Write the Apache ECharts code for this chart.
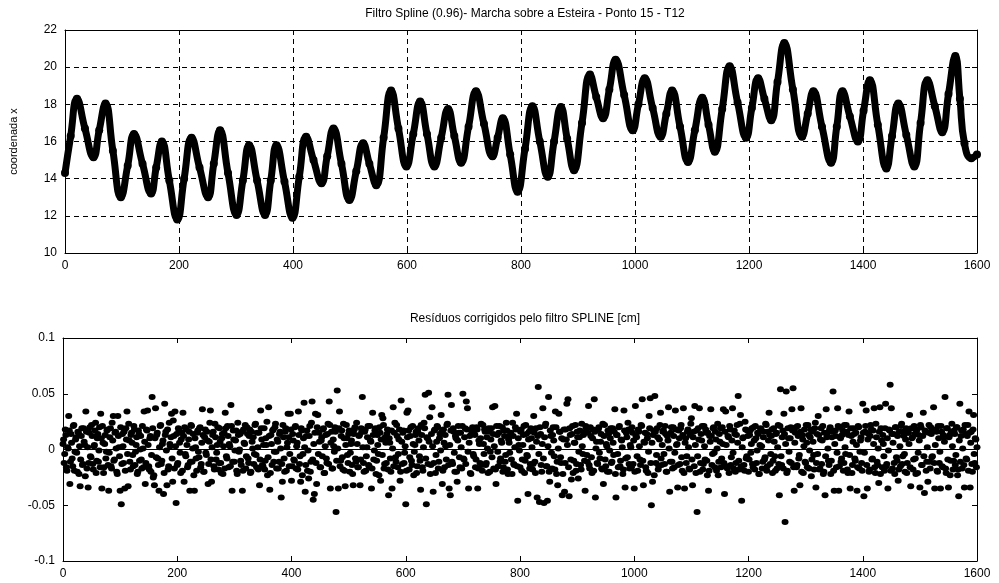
<!DOCTYPE html>
<html>
<head>
<meta charset="utf-8">
<title>Filtro Spline - Ponto 15 - T12</title>
<script src="https://cdn.jsdelivr.net/npm/echarts@6/dist/echarts.min.js"></script>
<style>
html, body { margin: 0; padding: 0; background: #fff; }
#chart { width: 999px; height: 583px; }
</style>
</head>
<body>
<div id="chart"></div>
<script>
// coordenada x filtrada: [quadro, valor] nos picos, vales e pontos intermediarios
const curvePoints = [
  [0,14.3],[10,16.3],[21,18.3],[35,16.7],[50,15.15],[60,16.6],[71,18.05],[84,15.5],[98,13.0],[110,14.7],
  [121,16.4],[136,14.8],[151,13.2],[160,14.6],[170,16.0],[183,13.9],[197,11.8],[209,14.0],[222,16.2],[236,14.6],
  [251,13.0],[261,14.8],[272,16.6],[286,14.3],[301,12.05],[312,13.9],[323,15.8],[337,13.9],[351,12.05],[361,13.9],
  [371,15.8],[385,13.85],[399,11.9],[411,14.1],[423,16.25],[436,15.0],[450,13.75],[460,15.2],[471,16.7],[485,14.8],
  [499,12.85],[511,14.4],[523,15.9],[534,14.8],[546,13.65],[559,16.2],[572,18.75],[585,16.7],[599,14.65],[611,16.4],
  [623,18.15],[635,16.4],[648,14.65],[660,16.2],[672,17.75],[683,16.3],[695,14.85],[708,16.8],[721,18.7],[735,16.95],
  [750,15.2],[759,16.2],[768,17.25],[781,15.3],[794,13.3],[807,15.6],[820,17.9],[833,16.0],[847,14.1],[858,16.0],
  [870,17.85],[881,16.15],[893,14.45],[907,17.0],[921,19.6],[932,18.4],[944,17.25],[955,18.8],[966,20.4],[981,18.5],
  [996,16.6],[1006,18.0],[1017,19.4],[1031,17.8],[1045,16.25],[1055,17.5],[1065,18.75],[1079,16.8],[1093,14.9],[1105,16.6],
  [1118,18.35],[1129,16.9],[1140,15.45],[1153,17.75],[1166,20.05],[1180,18.1],[1195,16.2],[1205,17.8],[1216,19.4],[1227,18.3],
  [1239,17.15],[1250,19.2],[1262,21.3],[1277,18.8],[1293,16.25],[1303,17.5],[1313,18.7],[1328,16.8],[1344,14.85],[1354,16.8],
  [1364,18.7],[1377,17.35],[1391,16.0],[1401,17.65],[1412,19.3],[1426,16.9],[1441,14.55],[1451,16.3],[1462,18.05],[1476,16.35],
  [1490,14.65],[1501,17.0],[1513,19.3],[1526,17.9],[1539,16.5],[1550,18.55],[1562,20.6],[1570,18.3],[1578,15.9],[1590,15.1],
  [1600,15.3]
];

// residuos [cm] nos quadros pares (0, 2, 4, ... 1600)
const residualsEven = [
  0.005,-0.012,0.018,-0.016,0.002,0.030,-0.031,0.014,-0.008,0.021,-0.019,0.009,-0.003,0.016,-0.022,-0.033,0.012,-0.014,0.019,0.004,
  0.034,-0.017,-0.034,0.015,-0.006,0.022,-0.013,0.003,0.017,-0.021,0.010,-0.011,0.020,0.032,-0.035,0.006,-0.016,0.013,-0.002,0.018,
  -0.037,0.011,-0.015,0.024,0.030,-0.009,0.016,-0.020,0.030,0.002,-0.037,-0.049,0.014,-0.012,-0.035,0.019,0.034,-0.033,0.008,-0.018,
  0.015,-0.005,0.021,-0.014,0.004,-0.022,0.017,-0.010,0.012,-0.017,0.001,0.034,-0.031,0.018,0.035,-0.015,0.010,-0.020,0.047,-0.025,
  -0.032,0.037,0.013,-0.008,-0.037,0.021,-0.013,0.005,-0.040,0.041,0.016,-0.032,-0.018,0.024,0.003,0.032,-0.029,0.012,0.034,-0.048,
  -0.014,0.019,0.006,-0.021,0.015,0.033,-0.029,-0.004,0.018,-0.016,0.009,-0.037,0.022,-0.011,0.014,-0.037,0.002,-0.019,0.017,-0.007,
  0.020,-0.013,0.036,-0.020,0.011,-0.003,0.016,-0.031,0.007,0.035,-0.029,0.013,-0.015,0.023,-0.009,0.004,-0.018,0.019,-0.012,0.010,
  -0.022,0.015,0.033,-0.006,0.021,-0.016,0.003,0.040,-0.037,0.017,-0.011,0.008,-0.019,0.024,-0.002,0.014,-0.014,-0.037,0.018,0.005,
  -0.017,0.020,-0.008,0.012,-0.021,0.016,0.001,-0.013,0.022,-0.005,0.015,-0.018,-0.032,0.035,0.009,-0.015,0.019,-0.010,0.004,-0.023,
  0.038,-0.036,0.013,-0.014,0.018,-0.002,0.023,-0.017,0.007,-0.011,0.016,-0.043,-0.029,0.011,-0.020,0.019,0.002,0.032,-0.015,0.032,
  -0.028,0.014,-0.009,0.020,-0.017,0.006,0.034,-0.013,-0.029,0.017,-0.004,0.042,-0.038,0.012,-0.019,-0.026,0.021,-0.011,0.043,-0.045,
  -0.040,0.032,-0.031,0.031,0.015,-0.016,0.008,-0.006,0.019,-0.021,0.013,-0.012,0.023,0.043,-0.035,0.016,-0.017,0.003,0.020,-0.056,
  0.053,-0.035,0.034,-0.010,0.017,-0.018,0.010,-0.033,0.022,-0.005,0.014,-0.020,0.005,-0.014,-0.032,0.018,-0.008,0.024,-0.016,0.012,
  -0.032,0.019,0.047,-0.012,0.016,-0.019,0.002,0.021,-0.015,0.008,-0.035,0.033,-0.009,0.017,-0.022,0.013,-0.004,0.020,-0.028,0.031,
  0.028,-0.017,0.011,-0.012,0.018,-0.041,0.006,-0.020,-0.035,0.038,0.015,-0.007,0.022,-0.016,0.009,-0.028,0.044,-0.013,0.017,-0.003,
  -0.049,0.033,0.035,-0.018,0.012,-0.010,0.021,-0.023,0.004,0.016,-0.015,0.019,-0.006,-0.036,0.013,-0.019,0.024,0.049,-0.049,0.010,
  0.051,0.029,-0.014,0.038,-0.038,0.017,-0.021,0.007,0.020,-0.011,0.014,0.031,-0.031,0.018,-0.016,0.003,0.022,0.049,-0.035,-0.041,
  0.040,-0.013,0.016,-0.020,0.010,-0.029,0.021,-0.007,0.015,-0.017,0.050,-0.009,0.019,0.043,0.037,-0.035,0.012,-0.022,0.017,-0.004,
  0.014,-0.016,0.020,-0.035,0.008,-0.012,0.023,-0.019,0.005,0.018,-0.014,0.011,-0.021,0.016,-0.002,0.019,0.038,-0.017,0.039,-0.031,
  0.013,-0.015,0.021,-0.008,0.006,-0.020,0.017,-0.011,0.024,-0.018,0.009,-0.003,0.015,-0.022,0.012,-0.014,0.020,0.032,-0.046,0.004,
  -0.016,0.018,-0.009,0.013,-0.021,0.022,-0.005,-0.040,0.016,-0.013,0.010,-0.018,0.030,-0.011,0.019,-0.043,0.056,-0.047,0.014,-0.020,
  0.037,-0.048,0.021,-0.015,-0.046,0.047,-0.029,0.012,-0.017,0.020,-0.006,0.034,-0.022,-0.032,0.032,0.016,-0.012,-0.041,0.009,-0.038,
  0.018,0.041,0.045,-0.042,0.013,-0.027,0.021,-0.010,0.006,-0.019,0.016,-0.026,0.011,-0.014,0.023,-0.004,0.015,-0.037,0.019,-0.011,
  0.039,-0.017,0.012,-0.021,0.018,0.045,-0.043,0.007,-0.013,0.020,-0.008,0.014,-0.018,-0.031,0.022,-0.015,0.003,0.017,-0.020,0.010,
  -0.012,0.019,-0.005,0.036,-0.043,0.013,-0.016,0.021,-0.010,0.008,-0.022,0.035,-0.034,0.015,-0.007,0.018,-0.017,0.002,0.020,-0.013,
  -0.035,0.039,0.011,-0.019,0.016,-0.009,0.022,0.045,-0.032,0.006,-0.016,0.014,-0.021,0.030,0.046,-0.050,-0.029,0.017,0.048,-0.012,
  0.019,-0.018,0.009,0.033,-0.014,0.016,-0.004,0.021,-0.020,0.012,0.038,-0.038,0.015,-0.011,0.020,-0.016,0.035,0.004,-0.034,0.017,
  -0.013,0.022,-0.019,0.037,-0.035,0.010,-0.006,0.018,-0.017,0.013,0.028,-0.032,0.016,0.039,-0.021,-0.056,0.019,0.037,-0.012,0.008,
  -0.018,0.021,-0.009,0.015,-0.023,-0.037,0.012,0.036,-0.014,0.019,-0.003,0.016,-0.019,0.023,-0.011,0.007,-0.016,0.020,0.036,-0.040,
  0.034,-0.015,0.012,-0.021,0.018,-0.007,0.037,-0.017,0.014,-0.012,0.022,0.048,-0.018,0.031,-0.046,0.010,-0.014,0.025,-0.008,0.017,
  -0.020,0.013,-0.003,0.019,-0.016,0.008,0.021,-0.012,0.015,-0.022,0.004,0.018,-0.017,0.011,-0.009,0.023,-0.019,0.016,0.033,-0.013,
  0.012,-0.021,0.019,-0.006,0.014,-0.017,0.022,-0.041,0.054,-0.014,0.017,0.032,-0.065,0.052,-0.019,0.010,-0.011,0.020,0.036,0.055,
  -0.037,0.015,-0.016,0.021,-0.008,-0.032,0.037,0.013,-0.021,0.018,-0.012,0.006,0.022,-0.017,0.011,-0.024,0.016,-0.005,0.019,-0.034,
  0.014,0.030,-0.018,0.009,-0.013,0.021,-0.020,-0.041,0.036,0.015,-0.010,0.018,-0.022,0.011,0.052,-0.037,0.017,-0.016,0.037,-0.037,
  0.020,-0.011,0.013,-0.019,0.022,-0.004,0.016,-0.021,0.034,-0.035,0.012,-0.014,0.019,-0.008,0.015,-0.037,0.021,-0.017,0.008,-0.012,
  0.041,-0.042,0.016,0.035,-0.035,0.014,-0.018,0.022,-0.009,0.017,0.037,-0.021,0.011,-0.014,-0.030,0.038,0.019,-0.016,0.005,-0.019,
  0.041,-0.013,-0.035,0.018,0.058,0.037,-0.017,0.014,-0.022,0.020,-0.010,-0.028,0.016,-0.015,0.023,-0.006,0.012,-0.020,0.019,-0.012,
  0.015,0.031,-0.033,0.010,-0.018,0.021,-0.008,0.017,-0.021,0.013,-0.034,0.020,-0.014,0.033,-0.039,0.016,-0.011,-0.029,0.022,-0.017,
  0.014,-0.006,0.038,-0.035,0.018,-0.019,0.021,-0.012,-0.035,0.016,-0.016,0.011,0.047,-0.021,0.019,-0.034,0.013,-0.010,0.023,-0.018,
  0.017,-0.014,0.020,-0.023,-0.042,0.041,0.012,-0.017,0.018,-0.034,0.014,-0.009,0.022,0.034,-0.034,0.016,-0.020,0.031,-0.012,0.009,
  0.002
];

// residuos [cm] nos quadros impares (1, 3, 5, ... 1599)
const residualsOdd = [
  0.009,-0.004,0.013,-0.019,0.001,0.017,-0.011,0.006,-0.015,0.022,-0.002,0.011,-0.020,0.015,0.003,-0.009,0.019,-0.013,0.007,-0.024,
  0.016,0.002,-0.012,0.020,-0.007,0.012,-0.018,0.004,0.024,-0.010,0.014,-0.001,-0.016,0.010,0.021,-0.021,0.005,-0.008,0.017,-0.014,
  -0.003,0.019,-0.017,0.008,-0.010,0.015,0.001,-0.022,0.012,-0.006,0.020,-0.013,0.003,0.016,-0.019,0.009,-0.004,0.023,-0.011,0.013,
  0.006,-0.015,0.018,-0.002,0.011,-0.020,0.014,0.000,-0.009,0.021,-0.016,0.007,-0.012,0.017,0.004,-0.018,0.012,-0.005,0.019,-0.023,
  0.010,-0.007,0.015,-0.014,0.002,0.022,-0.010,0.008,-0.021,0.013,-0.001,0.018,-0.015,0.005,0.011,-0.008,0.026,-0.017,0.003,0.014,
  -0.012,0.017,-0.003,0.009,-0.019,0.012,0.020,-0.006,0.004,-0.014,0.016,-0.011,0.021,0.001,-0.023,0.010,-0.008,0.015,-0.002,0.019,
  -0.016,0.006,0.013,-0.020,0.018,-0.005,0.008,-0.013,0.024,-0.009,0.002,0.016,-0.018,0.011,-0.003,0.020,-0.012,0.007,-0.021,0.014,
  0.003,-0.017,0.019,-0.008,0.012,0.005,-0.015,0.021,-0.011,0.009,-0.001,0.017,-0.022,0.013,0.000,-0.010,0.016,-0.019,0.006,0.022,
  -0.006,0.014,-0.012,0.018,-0.020,0.007,0.011,-0.004,0.023,-0.016,0.002,0.015,-0.009,0.019,-0.014,0.004,-0.018,0.010,0.025,-0.007,
  0.012,-0.021,0.005,0.017,-0.011,0.020,-0.002,0.009,-0.017,0.014,0.001,-0.013,0.022,-0.008,0.016,-0.019,0.006,0.011,-0.004,0.018,
  -0.015,0.008,-0.010,0.021,0.003,-0.018,0.013,-0.006,0.019,-0.023,0.010,0.002,-0.014,0.017,-0.001,0.012,-0.020,0.024,-0.009,0.005,
  0.015,-0.012,0.020,-0.004,0.007,-0.016,0.011,0.018,-0.021,0.003,-0.008,0.014,-0.013,0.022,0.006,-0.017,0.009,-0.002,0.016,-0.010,
  0.001,0.019,-0.015,0.012,-0.007,0.023,-0.019,0.004,0.010,-0.012,0.017,-0.003,0.008,-0.022,0.014,0.020,-0.011,0.005,-0.016,0.013,
  -0.009,0.016,0.002,-0.020,0.018,-0.006,0.011,-0.014,0.021,0.007,-0.017,0.013,-0.001,0.019,-0.010,0.004,-0.023,0.015,0.009,-0.005,
  0.022,-0.013,0.006,0.014,-0.018,0.010,-0.008,0.017,0.001,-0.015,0.024,-0.011,0.012,-0.004,0.018,-0.020,0.007,0.015,-0.012,0.003,
  -0.019,0.011,0.017,-0.007,0.020,-0.014,0.005,-0.002,0.013,-0.021,0.016,0.008,-0.010,0.022,-0.016,0.002,0.019,-0.008,0.011,-0.013,
  0.007,-0.022,0.014,0.003,-0.012,0.018,-0.005,0.021,-0.017,0.010,-0.001,0.016,-0.019,0.006,0.013,-0.009,0.023,-0.014,0.004,0.017,
  -0.011,0.019,-0.003,0.012,-0.020,0.008,0.015,-0.016,0.002,0.021,-0.008,0.011,-0.013,0.018,-0.002,0.006,-0.021,0.014,0.020,-0.006,
  0.013,-0.009,0.018,-0.017,0.005,0.010,-0.014,0.022,-0.004,0.016,-0.012,0.001,0.019,-0.020,0.009,-0.007,0.014,0.003,-0.018,0.021,
  -0.002,0.015,-0.011,0.008,0.020,-0.016,0.012,-0.005,0.017,-0.022,0.006,0.013,-0.009,0.024,-0.013,0.002,0.018,-0.015,0.010,-0.001,
  0.016,-0.019,0.004,0.021,-0.010,0.014,-0.006,0.009,-0.017,0.019,0.002,-0.013,0.015,-0.021,0.007,0.012,-0.004,0.020,-0.014,0.005,
  -0.008,0.011,0.023,-0.015,0.003,-0.020,0.017,-0.003,0.013,0.008,-0.018,0.020,-0.011,0.001,0.016,-0.007,0.010,-0.022,0.018,-0.012,
  0.009,0.004,-0.016,0.019,-0.009,0.014,-0.021,0.006,0.022,-0.013,0.011,-0.002,0.017,-0.018,0.003,0.013,-0.010,0.021,-0.005,0.015,
  -0.014,0.020,-0.007,0.010,-0.019,0.016,0.001,-0.012,0.018,-0.003,0.007,-0.017,0.023,0.012,-0.009,0.005,-0.020,0.014,-0.001,0.019,
  -0.011,0.006,0.016,-0.022,0.013,-0.004,0.020,-0.015,0.009,0.002,-0.018,0.017,-0.008,0.011,0.024,-0.013,0.004,-0.016,0.015,0.008,
  -0.020,0.012,-0.006,0.018,0.003,-0.014,0.021,-0.010,0.007,0.015,-0.019,0.010,-0.002,0.019,-0.012,0.006,0.013,-0.023,0.016,-0.005,
  0.011,-0.015,0.022,-0.008,0.004,0.017,-0.013,0.014,-0.020,0.008,0.001,-0.011,0.020,-0.017,0.012,-0.003,0.018,0.005,-0.014,0.010,
  0.019,-0.007,0.013,-0.021,0.006,-0.012,0.016,0.002,-0.018,0.023,-0.009,0.011,-0.015,0.004,0.017,-0.006,0.009,-0.020,0.014,0.021,
  -0.013,0.003,0.018,-0.010,0.015,-0.019,0.007,0.012,-0.004,0.020,-0.016,0.009,0.001,-0.023,0.014,0.019,-0.008,0.005,-0.012,0.016,
  0.004,-0.017,0.011,0.021,-0.014,0.008,-0.003,0.017,-0.020,0.013,0.006,-0.010,0.023,-0.015,0.002,0.011,-0.019,0.018,-0.006,0.012,
  -0.009,0.017,0.005,-0.013,0.020,-0.018,0.010,-0.001,0.014,-0.022,0.019,0.003,-0.011,0.016,-0.007,0.022,-0.015,0.008,0.013,-0.004,
  0.018,-0.010,0.007,-0.019,0.015,0.002,-0.013,0.021,-0.006,0.011,-0.017,0.014,0.005,-0.021,0.019,-0.002,0.010,-0.012,0.017,-0.016,
  0.006,0.020,-0.014,0.012,-0.005,0.016,-0.020,0.009,0.003,-0.011,0.022,-0.016,0.013,-0.001,0.018,-0.009,0.007,-0.018,0.024,-0.012,
  -0.004,0.013,-0.017,0.019,0.008,-0.022,0.015,-0.006,0.011,0.001,-0.014,0.020,-0.010,0.016,-0.019,0.005,0.012,-0.003,0.021,-0.015,
  0.010,-0.008,0.017,-0.012,0.002,0.022,-0.018,0.013,-0.005,0.019,-0.021,0.007,0.014,-0.010,0.004,-0.016,0.020,-0.002,0.011,-0.019,
  0.015,-0.003,0.021,-0.014,0.009,-0.020,0.012,0.018,-0.008,0.005,-0.016,0.023,-0.011,0.001,0.016,-0.022,0.008,0.013,-0.006,0.019,
  -0.015,0.010,-0.001,0.017,-0.019,0.014,0.006,-0.012,0.020,-0.007,0.012,-0.018,0.003,0.021,-0.013,0.016,-0.004,0.009,-0.021,0.015,
  0.005,-0.016,0.019,0.011,-0.009,0.014,-0.022,0.018,-0.003,0.008,0.022,-0.014,0.012,-0.006,0.017,-0.019,0.002,0.015,-0.011,0.020,
  -0.007,0.018,-0.012,0.004,0.016,-0.020,0.010,-0.002,0.021,-0.015,0.013,0.007,-0.017,0.019,-0.009,0.011,-0.023,0.016,0.003,-0.010,
  0.014,-0.005,0.020,-0.018,0.008,-0.011,0.017,0.001,-0.014,0.022,-0.008,0.012,-0.019,0.015,0.006,-0.013,0.018,-0.004,0.010,-0.016
];

// eixos
const frameTicks = [0, 200, 400, 600, 800, 1000, 1200, 1400, 1600];
const coordTicks = [10, 12, 14, 16, 18, 20, 22];
const resTicks = [-0.1, -0.05, 0, 0.05, 0.1];

const font = "'Liberation Sans', Arial, sans-serif";
const chart = echarts.init(document.getElementById('chart'));

function xAx(grid, top) {
  return {
    type: 'value',
    gridIndex: grid,
    position: top ? 'top' : 'bottom',
    min: frameTicks[0],
    max: frameTicks[frameTicks.length - 1],
    interval: frameTicks[1] - frameTicks[0],
    axisLine: { show: true, onZero: false, lineStyle: { color: '#000', width: 1 } },
    axisTick: { show: true, inside: true, length: 5, lineStyle: { color: '#000' } },
    axisLabel: { show: !top, color: '#000', fontSize: 12, fontFamily: font, margin: 7, formatter: v => String(v) },
    splitLine: { show: grid === 0 && !top, lineStyle: { color: '#000', type: [5, 4], width: 1 } }
  };
}

function yAx(grid, right, ticks) {
  return {
    type: 'value',
    gridIndex: grid,
    position: right ? 'right' : 'left',
    min: ticks[0],
    max: ticks[ticks.length - 1],
    interval: ticks[1] - ticks[0],
    axisLine: { show: true, onZero: false, lineStyle: { color: '#000', width: 1 } },
    axisTick: { show: true, inside: true, length: 5, lineStyle: { color: '#000' } },
    axisLabel: { show: !right, color: '#000', fontSize: 12, fontFamily: font, margin: 8, formatter: v => String(v) },
    splitLine: { show: grid === 0 && !right, lineStyle: { color: '#000', type: [5, 4], width: 1 } }
  };
}

const yTop = yAx(0, false, coordTicks);
yTop.name = 'coordenada x';
yTop.nameLocation = 'middle';
yTop.nameGap = 46;
yTop.nameTextStyle = { color: '#000', fontSize: 11, fontFamily: font };

const residualPoints = [];
residualsEven.forEach((v, i) => residualPoints.push([2 * i, v]));
residualsOdd.forEach((v, i) => residualPoints.push([2 * i + 1, v]));

chart.setOption({
  animation: false,
  backgroundColor: '#fff',
  title: [
    { text: 'Filtro Spline (0.96)- Marcha sobre a Esteira - Ponto 15 - T12', left: 520, top: 3, textAlign: 'center',
      textStyle: { color: '#000', fontSize: 12, fontWeight: 'normal', fontFamily: font } },
    { text: 'Resíduos corrigidos pelo filtro SPLINE [cm]', left: 520, top: 308, textAlign: 'center',
      textStyle: { color: '#000', fontSize: 12, fontWeight: 'normal', fontFamily: font } }
  ],
  grid: [
    { left: 63, top: 30, width: 914, height: 223 },
    { left: 63, top: 338, width: 914, height: 223 }
  ],
  xAxis: [xAx(0, false), xAx(0, true), xAx(1, false), xAx(1, true)],
  yAxis: [yTop, yAx(0, true, coordTicks), yAx(1, false, resTicks), yAx(1, true, resTicks)],
  series: [
    {
      type: 'line',
      xAxisIndex: 0,
      yAxisIndex: 0,
      data: curvePoints,
      smooth: 0.5,
      symbol: 'circle',
      symbolSize: 8,
      showAllSymbol: true,
      itemStyle: { color: '#000' },
      lineStyle: { color: '#000', width: 7 }
    },
    {
      type: 'scatter',
      xAxisIndex: 2,
      yAxisIndex: 2,
      data: residualPoints,
      symbol: 'circle',
      symbolSize: [7, 6],
      itemStyle: { color: '#000', opacity: 1 },
      markLine: {
        silent: true,
        symbol: 'none',
        label: { show: false },
        lineStyle: { color: '#000', width: 1, type: 'solid' },
        data: [{ yAxis: 0 }]
      }
    }
  ]
});
</script>
</body>
</html>
